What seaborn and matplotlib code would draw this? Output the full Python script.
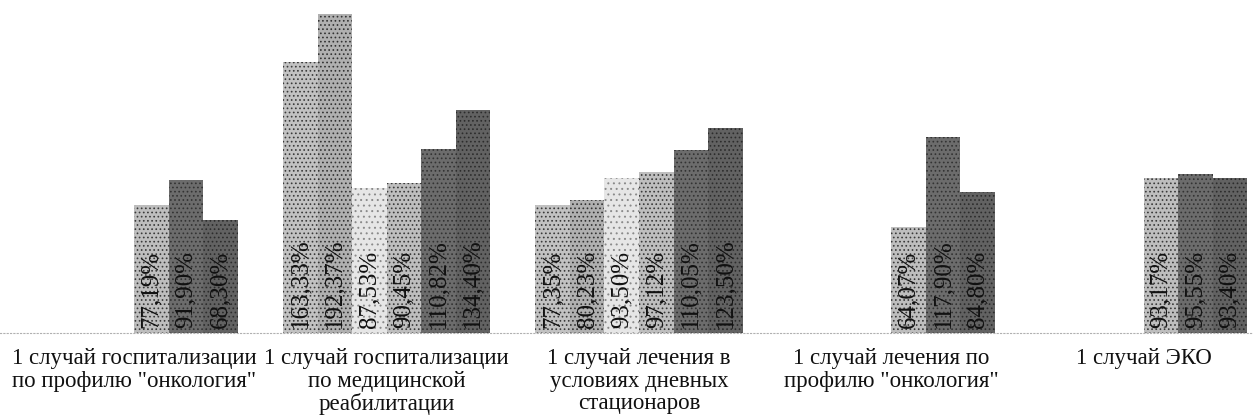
import numpy as np
import pandas as pd
import seaborn as sns
import matplotlib.pyplot as plt

# Categories along the x axis
categories = [
    '1 случай госпитализации\nпо профилю "онкология"',
    '1 случай госпитализации\nпо медицинской\nреабилитации',
    '1 случай лечения в\nусловиях дневных\nстационаров',
    '1 случай лечения по\nпрофилю "онкология"',
    '1 случай ЭКО',
]

# Six series (percent values); NaN = no bar for that category
series_names = ["ряд 1", "ряд 2", "ряд 3", "ряд 4", "ряд 5", "ряд 6"]
s1 = [np.nan, 163.33, 77.35, np.nan, np.nan]
s2 = [np.nan, 192.37, 80.23, np.nan, np.nan]
s3 = [np.nan, 87.53, 93.50, np.nan, np.nan]
s4 = [77.19, 90.45, 97.12, 64.07, 93.17]
s5 = [91.90, 110.82, 110.05, 117.90, 95.55]
s6 = [68.30, 134.40, 123.50, 84.80, 93.40]
all_series = [s1, s2, s3, s4, s5, s6]

rows = []
for name, vals in zip(series_names, all_series):
    for cat, v in zip(categories, vals):
        rows.append({"category": cat, "series": name, "value": v})
df = pd.DataFrame(rows)

# Grey halftone-like fills: (face, dot colour, hatch)
styles = [
    ("#c2c2c2", "#3a3a3a", "...."),
    ("#b0b0b0", "#333333", "...."),
    ("#e6e6e6", "#8a8a8a", "..."),
    ("#bebebe", "#3a3a3a", "...."),
    ("#6c6c6c", "#333333", "...."),
    ("#626262", "#2c2c2c", "...."),
]

sns.set_theme(style="white")
plt.rcParams["font.family"] = ["Liberation Serif", "DejaVu Serif"]
plt.rcParams["hatch.linewidth"] = 0.7

fig = plt.figure(figsize=(12.53, 4.18), dpi=100)
ax = fig.add_axes([0.0, 0.2033, 1.0, 0.7943])

sns.barplot(
    data=df, x="category", y="value", hue="series",
    order=categories, hue_order=series_names,
    palette=[s[0] for s in styles], saturation=1,
    width=0.82, legend=False, errorbar=None, ax=ax,
)

for container, (face, dots, hatch) in zip(ax.containers, styles):
    for bar in container:
        bar.set_facecolor(face)
        bar.set_edgecolor(dots)
        bar.set_hatch(hatch)
        bar.set_linewidth(0)
        h = bar.get_height()
        if np.isnan(h):
            continue
        ax.text(
            bar.get_x() + bar.get_width() / 2, 3,
            f"{h:.2f}%".replace(".", ","),
            rotation=90, ha="center", va="bottom",
            fontsize=18, color="#111111",
        )

ax.set_xlim(-0.531, 4.432)
ax.set_ylim(0, 200)
ax.set_xlabel("")
ax.set_ylabel("")
ax.set_yticks([])
for side in ("left", "top", "right"):
    ax.spines[side].set_visible(False)
ax.spines["bottom"].set_color("#b0b0b0")
ax.spines["bottom"].set_linestyle((0, (1, 2)))
ax.spines["bottom"].set_linewidth(0.8)
ax.tick_params(axis="x", length=0, pad=11, labelsize=16.5, labelcolor="#111111")
for lbl in ax.get_xticklabels():
    lbl.set_linespacing(1.08)

fig.savefig("out.png", dpi=100)
